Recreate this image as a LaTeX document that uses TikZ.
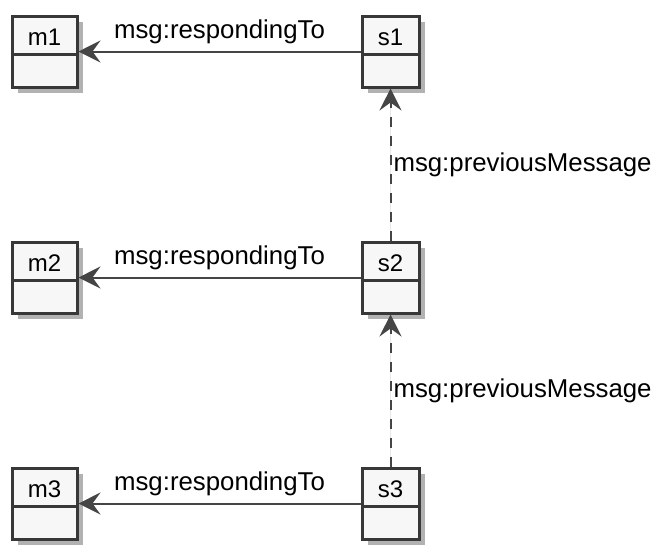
\documentclass[tikz,border=0pt]{standalone}
\usepackage{fontspec}
\setmainfont{Liberation Sans}
\usepackage{tikz}
\usetikzlibrary{positioning, shapes, arrows.meta, shadows, calc}
\definecolor{umlBorder}{HTML}{383838}
\definecolor{umlFill}{HTML}{F7F7F7}
\definecolor{umlEdge}{HTML}{454545}
\tikzset{
    umlClass/.style={
        rectangle,
        draw=umlBorder,
        line width=1.5pt,
        fill=umlFill,
        minimum width=#1,
        inner xsep=0pt,
        inner ysep=0pt,
        text height=14.5pt,
        text depth=21pt,
        font=\fontsize{12}{14}\selectfont,
        drop shadow={shadow xshift=3pt, shadow yshift=-3pt, opacity=0.3, fill=black},
        path picture={
            \draw[umlBorder, line width=1.5pt]
                ([yshift=-19pt]path picture bounding box.north west) --
                ([yshift=-19pt]path picture bounding box.north east);
        }
    },
    umlLabel/.style={
        font=\fontsize{12.9}{15}\selectfont,
        inner sep=0pt
    }
}

\begin{document}
\begin{tikzpicture}[
    x=0.5pt, y=-0.5pt,
    refArr/.style={-{Stealth[length=11pt, width=11pt, inset=4pt]}, line width=1pt, draw=umlEdge, fill=umlEdge},
    prevArr/.style={refArr, dash pattern=on 5pt off 4.5pt}
]
\useasboundingbox (0,0) rectangle (672,558);

% Messages and statements
\foreach \i/\y in {1/51.5, 2/277.5, 3/503.5} {
    \node[umlClass=32.5pt] (m\i) at (44.5, \y) {m\i};
    \node[umlClass=28.5pt] (s\i) at (390.5, \y) {s\i};
}

% respondingTo links
\foreach \i in {1,2,3} {
    \draw[refArr] (s\i) -- (m\i)
        node[umlLabel, midway, anchor=base, yshift=6.4pt] (rt\i) {msg:respondingTo};
}

% previousMessage links
\draw[prevArr] (s2) -- (s1)
    node[umlLabel, midway, anchor=west, xshift=1pt] (pm1) {msg:previousMessage};
\draw[prevArr] (s3) -- (s2)
    node[umlLabel, midway, anchor=west, xshift=1pt] (pm2) {msg:previousMessage};
\end{tikzpicture}
\end{document}
